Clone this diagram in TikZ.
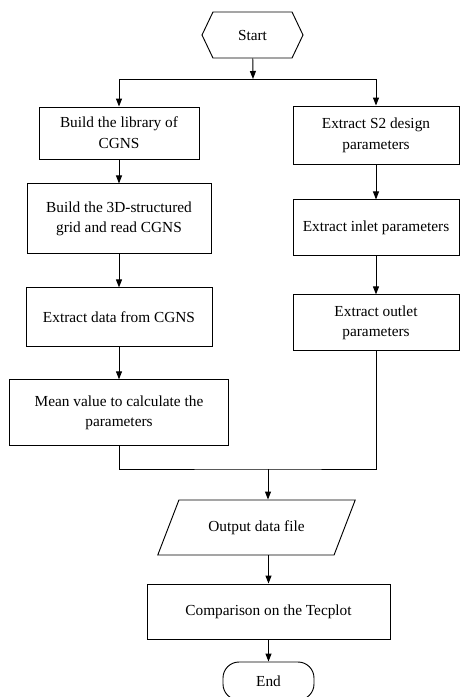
\documentclass[tikz,border=0pt]{standalone}
\usepackage{fontspec}
\setmainfont{Liberation Serif}
\usetikzlibrary{arrows.meta,positioning,shapes.geometric,shapes.symbols}

\begin{document}
\begin{tikzpicture}[
    x=0.75pt, y=-0.75pt, line width=0.7pt,
    every node/.style={font=\fontsize{11.5}{15.5}\selectfont},
    box/.style={draw, align=center, inner sep=2pt},
    hexa/.style={draw, signal, signal to=west and east, signal pointer angle=129, minimum width=75.75pt, minimum height=34.5pt},
    iobox/.style={draw, trapezium, trapezium left angle=58, trapezium right angle=122, trapezium stretches=true, minimum width=149.25pt, minimum height=41.25pt},
    term/.style={draw, rounded corners=12pt, minimum width=68.25pt, minimum height=28.5pt},
    arr/.style={-{Triangle[length=6pt,width=4.5pt]}}
  ]
    \useasboundingbox (0,0) rectangle (460,697);
    \node[hexa] (start) at (252.5,35) {Start};
    \coordinate (split) at (253,79);
    % left branch
    \node[box, minimum width=120pt, minimum height=39pt] (lib) at (119,133) {Build the library of\\CGNS};
    \node[box, below=18pt of lib, minimum width=138pt, minimum height=52.5pt] (grid) {Build the 3D-structured\\grid and read CGNS};
    \node[box, below=24.75pt of grid, minimum width=139.5pt, minimum height=44.25pt] (data) {Extract data from CGNS};
    \node[box, below=24pt of data, minimum width=164.25pt, minimum height=49.5pt] (mean) {Mean value to calculate the\\parameters};
    % right branch
    \node[box, minimum width=124.5pt, minimum height=43.5pt] (design) at (376,135) {Extract S2 design\\parameters};
    \node[box, below=26.25pt of design, minimum width=124.5pt, minimum height=42pt] (inlet) {Extract inlet parameters};
    \node[box, below=28.5pt of inlet, minimum width=124.5pt, minimum height=42pt] (outlet) {Extract outlet\\parameters};
    \coordinate (merge) at (268,469);
    \node[iobox] (out) at (256.5,527.5) {Output data file};
    \node[box, minimum width=182.25pt, minimum height=41.25pt] (tec) at (268.5,611.5) {Comparison on the Tecplot};
    \node[term] (end) at (268.5,681) {End};

    \draw[arr] (start) -- (split);
    \draw (lib.north |- split) -- (design.north |- split);
    \draw[arr] (lib.north |- split) -- (lib);
    \draw[arr] (design.north |- split) -- (design);
    \draw[arr] (lib) -- (grid);
    \draw[arr] (grid) -- (data);
    \draw[arr] (data) -- (mean);
    \draw[arr] (design) -- (inlet);
    \draw[arr] (inlet) -- (outlet);
    \draw (mean.south) |- (merge) -| (outlet.south);
    \draw[arr] (merge) -- (merge |- out.north);
    \draw[arr] (tec.north |- out.south) -- (tec);
    \draw[arr] (tec) -- (end);
  \end{tikzpicture}
\end{document}
